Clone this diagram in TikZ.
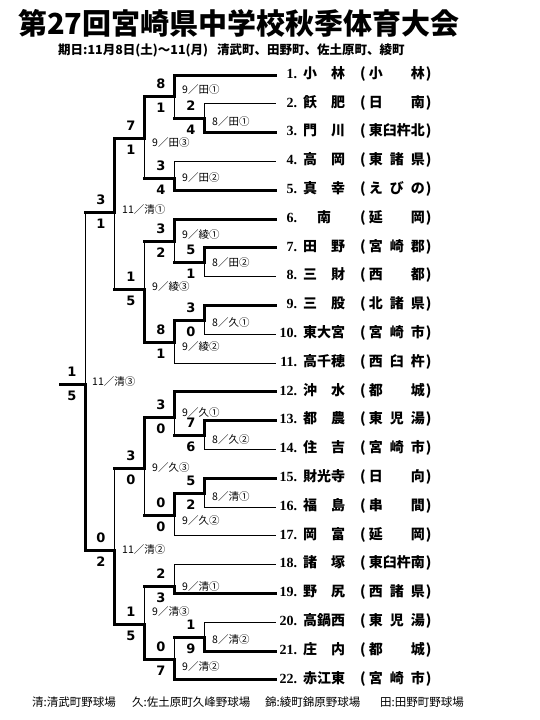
\documentclass[tikz,border=0pt]{standalone}
\usepackage{fontspec}
\setmainfont{Liberation Serif}
\newfontfamily\cjk{Noto Sans CJK JP}
\newfontfamily\scorefont{DejaVu Sans}
\newcommand\teamrow[3]{\makebox[22pt][r]{\bfseries#1.}\hspace{6pt}{\cjk\bfseries\makebox[42pt][s]{#2}\hspace{15pt}(\hspace{3pt}\makebox[56pt][s]{#3}\hspace{1pt})}}

\begin{document}
\begin{tikzpicture}[x=1pt,y=-1pt,line cap=rect,
  win/.style={line width=3pt},
  lose/.style={line width=1pt},
  team/.style={anchor=west,inner sep=0pt,text height=10pt,text depth=3.5pt,font=\fontsize{14}{14}\selectfont},
  score/.style={inner sep=0pt,font=\scorefont\bfseries\fontsize{13}{13}\selectfont},
  venue/.style={anchor=west,inner sep=0pt,font=\cjk\fontsize{10.5}{11}\selectfont}]
\path[use as bounding box] (0,0) rectangle (540,720);
\node[anchor=west,inner sep=0pt,font=\cjk\bfseries\fontsize{29}{29}\selectfont] (title) at (18,23) {第27回宮崎県中学校秋季体育大会};
\node[anchor=west,inner sep=0pt,font=\cjk\bfseries\fontsize{12.5}{13}\selectfont] (dates) at (58,50) {期日:11月8日(土)～11(月)\hspace{9pt}清武町、田野町、佐土原町、綾町};
% teams
\node[team] (t1) at (275,75) {\teamrow{1}{小\hfill 林}{小\hfill 林}};
\node[team] (t2) at (275,103.8) {\teamrow{2}{飫\hfill 肥}{日\hfill 南}};
\node[team] (t3) at (275,132.6) {\teamrow{3}{門\hfill 川}{東\hfill 臼\hfill 杵\hfill 北}};
\node[team] (t4) at (275,161.4) {\teamrow{4}{高\hfill 岡}{東\hfill 諸\hfill 県}};
\node[team] (t5) at (275,190.2) {\teamrow{5}{真\hfill 幸}{え\hfill び\hfill の}};
\node[team] (t6) at (275,219) {\teamrow{6}{\hfill 南\hfill}{延\hfill 岡}};
\node[team] (t7) at (275,247.8) {\teamrow{7}{田\hfill 野}{宮\hfill 崎\hfill 郡}};
\node[team] (t8) at (275,276.6) {\teamrow{8}{三\hfill 財}{西\hfill 都}};
\node[team] (t9) at (275,305.4) {\teamrow{9}{三\hfill 股}{北\hfill 諸\hfill 県}};
\node[team] (t10) at (275,334.2) {\teamrow{10}{東\hfill 大\hfill 宮}{宮\hfill 崎\hfill 市}};
\node[team] (t11) at (275,363) {\teamrow{11}{高\hfill 千\hfill 穂}{西\hfill 臼\hfill 杵}};
\node[team] (t12) at (275,391.8) {\teamrow{12}{沖\hfill 水}{都\hfill 城}};
\node[team] (t13) at (275,420.6) {\teamrow{13}{都\hfill 農}{東\hfill 児\hfill 湯}};
\node[team] (t14) at (275,449.4) {\teamrow{14}{住\hfill 吉}{宮\hfill 崎\hfill 市}};
\node[team] (t15) at (275,478.2) {\teamrow{15}{財\hfill 光\hfill 寺}{日\hfill 向}};
\node[team] (t16) at (275,507) {\teamrow{16}{福\hfill 島}{串\hfill 間}};
\node[team] (t17) at (275,535.8) {\teamrow{17}{岡\hfill 富}{延\hfill 岡}};
\node[team] (t18) at (275,564.6) {\teamrow{18}{諸\hfill 塚}{東\hfill 臼\hfill 杵\hfill 南}};
\node[team] (t19) at (275,593.4) {\teamrow{19}{野\hfill 尻}{西\hfill 諸\hfill 県}};
\node[team] (t20) at (275,622.2) {\teamrow{20}{高\hfill 鍋\hfill 西}{東\hfill 児\hfill 湯}};
\node[team] (t21) at (275,651) {\teamrow{21}{庄\hfill 内}{都\hfill 城}};
\node[team] (t22) at (275,679.8) {\teamrow{22}{赤\hfill 江\hfill 東}{宮\hfill 崎\hfill 市}};
% junctions
\coordinate (a1) at (204,118);
\coordinate (a2) at (204,262);
\coordinate (a3) at (204,320);
\coordinate (a4) at (204,435);
\coordinate (a5) at (204,493);
\coordinate (a6) at (204,637);
\coordinate (b1) at (174,96);
\coordinate (b2) at (174,178);
\coordinate (b3) at (174,241);
\coordinate (b4) at (174,342);
\coordinate (b5) at (174,417);
\coordinate (b6) at (174,515);
\coordinate (b7) at (174,586);
\coordinate (b8) at (174,659);
\coordinate (c1) at (144,138);
\coordinate (c2) at (144,289);
\coordinate (c3) at (144,468);
\coordinate (c4) at (144,624);
\coordinate (d1) at (114,212);
\coordinate (d2) at (114,550);
\coordinate (fin) at (85,384);
\coordinate (champ) at (60,384);
% first round
\draw[lose] (t2.west) -| (a1);
\draw[win] (t3.west) -| (a1);
\draw[win] (t7.west) -| (a2);
\draw[lose] (t8.west) -| (a2);
\draw[win] (t9.west) -| (a3);
\draw[lose] (t10.west) -| (a3);
\draw[win] (t13.west) -| (a4);
\draw[lose] (t14.west) -| (a4);
\draw[win] (t15.west) -| (a5);
\draw[lose] (t16.west) -| (a5);
\draw[lose] (t20.west) -| (a6);
\draw[win] (t21.west) -| (a6);
% second round
\draw[win] (t1.west) -| (b1);
\draw[win] (a1) -- (a1 -| b1);
\draw[lose] (a1 -| b1) -- (b1);
\draw[lose] (t4.west) -| (b2);
\draw[win] (t5.west) -| (b2);
\draw[win] (t6.west) -| (b3);
\draw[win] (a2) -- (a2 -| b3);
\draw[lose] (a2 -| b3) -- (b3);
\draw[win] (a3) -| (b4);
\draw[lose] (t11.west) -| (b4);
\draw[win] (t12.west) -| (b5);
\draw[win] (a4) -- (a4 -| b5);
\draw[lose] (a4 -| b5) -- (b5);
\draw[win] (a5) -| (b6);
\draw[lose] (t17.west) -| (b6);
\draw[lose] (t18.west) -| (b7);
\draw[win] (t19.west) -| (b7);
\draw[win] (a6) -- (a6 -| b8);
\draw[lose] (a6 -| b8) -- (b8);
\draw[win] (t22.west) -| (b8);
% third round
\draw[win] (b1) -| (c1);
\draw[win] (b2) -- (b2 -| c1);
\draw[lose] (b2 -| c1) -- (c1);
\draw[win] (b3) -- (b3 -| c2);
\draw[lose] (b3 -| c2) -- (c2);
\draw[win] (b4) -| (c2);
\draw[win] (b5) -| (c3);
\draw[win] (b6) -- (b6 -| c3);
\draw[lose] (b6 -| c3) -- (c3);
\draw[win] (b7) -- (b7 -| c4);
\draw[lose] (b7 -| c4) -- (c4);
\draw[win] (b8) -| (c4);
% semifinals and final
\draw[win] (c1) -| (d1);
\draw[win] (c2) -- (c2 -| d1);
\draw[lose] (c2 -| d1) -- (d1);
\draw[win] (c3) -- (c3 -| d2);
\draw[lose] (c3 -| d2) -- (d2);
\draw[win] (c4) -| (d2);
\draw[win] (d1) -- (d1 -| fin);
\draw[lose] (d1 -| fin) -- (fin);
\draw[win] (d2) -| (fin);
\draw[win] (fin) -- (champ);
% scores
\node[score] (a1u) at (191,106) {2};
\node[score] (a1d) at (191,130) {4};
\node[score] (a2u) at (191,250) {5};
\node[score] (a2d) at (191,274) {1};
\node[score] (a3u) at (191,308) {3};
\node[score] (a3d) at (191,332) {0};
\node[score] (a4u) at (191,423) {7};
\node[score] (a4d) at (191,447) {6};
\node[score] (a5u) at (191,481) {5};
\node[score] (a5d) at (191,505) {2};
\node[score] (a6u) at (191,625) {1};
\node[score] (a6d) at (191,649) {9};
\node[score] (b1u) at (161,84) {8};
\node[score] (b1d) at (161,108) {1};
\node[score] (b2u) at (161,166) {3};
\node[score] (b2d) at (161,190) {4};
\node[score] (b3u) at (161,229) {3};
\node[score] (b3d) at (161,253) {2};
\node[score] (b4u) at (161,330) {8};
\node[score] (b4d) at (161,354) {1};
\node[score] (b5u) at (161,405) {3};
\node[score] (b5d) at (161,429) {0};
\node[score] (b6u) at (161,503) {0};
\node[score] (b6d) at (161,527) {0};
\node[score] (b7u) at (161,574) {2};
\node[score] (b7d) at (161,598) {3};
\node[score] (b8u) at (161,647) {0};
\node[score] (b8d) at (161,671) {7};
\node[score] (c1u) at (131,126) {7};
\node[score] (c1d) at (131,150) {1};
\node[score] (c2u) at (131,277) {1};
\node[score] (c2d) at (131,301) {5};
\node[score] (c3u) at (131,456) {3};
\node[score] (c3d) at (131,480) {0};
\node[score] (c4u) at (131,612) {1};
\node[score] (c4d) at (131,636) {5};
\node[score] (d1u) at (101,200) {3};
\node[score] (d1d) at (101,224) {1};
\node[score] (d2u) at (101,538) {0};
\node[score] (d2d) at (101,562) {2};
\node[score] (finu) at (72,372) {1};
\node[score] (find) at (72,396) {5};
% dates and grounds
\node[venue] (a1v) at (212,122) {8／田①};
\node[venue] (a2v) at (212,263) {8／田②};
\node[venue] (a3v) at (212,323) {8／久①};
\node[venue] (a4v) at (212,440) {8／久②};
\node[venue] (a5v) at (212,497) {8／清①};
\node[venue] (a6v) at (212,640) {8／清②};
\node[venue] (b1v) at (182,90) {9／田①};
\node[venue] (b2v) at (182,178) {9／田②};
\node[venue] (b3v) at (182,235) {9／綾①};
\node[venue] (b4v) at (182,347) {9／綾②};
\node[venue] (b5v) at (182,413) {9／久①};
\node[venue] (b6v) at (182,521) {9／久②};
\node[venue] (b7v) at (182,587) {9／清①};
\node[venue] (b8v) at (182,667) {9／清②};
\node[venue] (c1v) at (152,143) {9／田③};
\node[venue] (c2v) at (152,287) {9／綾③};
\node[venue] (c3v) at (152,468) {9／久③};
\node[venue] (c4v) at (152,612) {9／清③};
\node[venue] (d1v) at (122,210) {11／清①};
\node[venue] (d2v) at (122,550) {11／清②};
\node[venue] (finv) at (92,382) {11／清③};
% grounds key
\node[anchor=west,inner sep=0pt,font=\cjk\fontsize{11.5}{12}\selectfont] (key1) at (32,702) {清:清武町野球場};
\node[anchor=west,inner sep=0pt,font=\cjk\fontsize{11.5}{12}\selectfont] (key2) at (132,702) {久:佐土原町久峰野球場};
\node[anchor=west,inner sep=0pt,font=\cjk\fontsize{11.5}{12}\selectfont] (key3) at (265,702) {錦:綾町錦原野球場};
\node[anchor=west,inner sep=0pt,font=\cjk\fontsize{11.5}{12}\selectfont] (key4) at (380,702) {田:田野町野球場};
\end{tikzpicture}
\end{document}
